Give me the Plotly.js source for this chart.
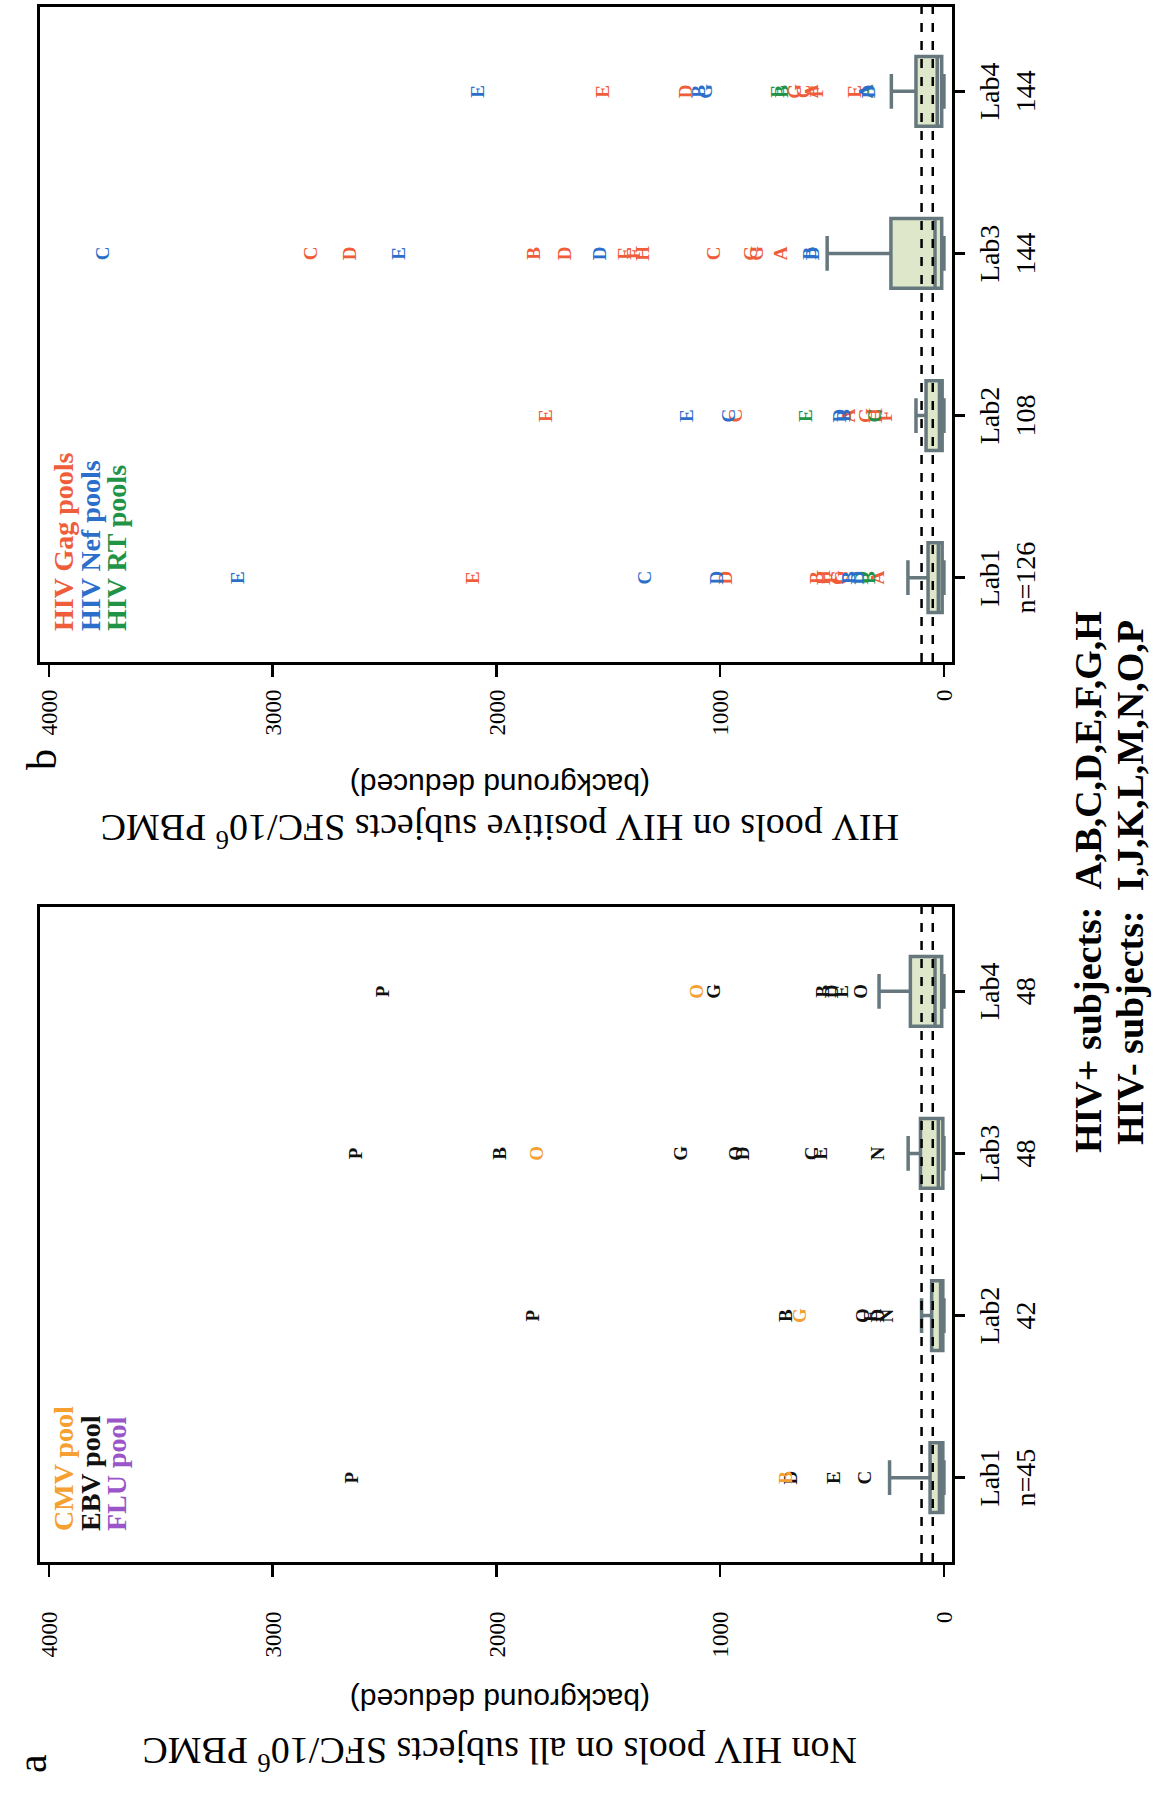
<!DOCTYPE html>
<html>
<head>
<meta charset="utf-8">
<script src="https://cdn.plot.ly/plotly-3.0.1.min.js"></script>
<style>
  html, body { margin: 0; padding: 0; background: #ffffff; }
  body { width: 1153px; height: 1796px; overflow: hidden; position: relative; }
  #chart { position: absolute; left: 0; top: 0; width: 1796px; height: 1153px;
           transform-origin: 0 0; transform: translate(0px, 1796px) rotate(-90deg); }
</style>
</head>
<body>
<div id="chart"></div>
<script>
// ---------------- data ----------------
const labs = ['Lab1', 'Lab2', 'Lab3', 'Lab4'];
const nonHivTickText = ['Lab1<br>n=45', 'Lab2<br>42', 'Lab3<br>48', 'Lab4<br>48'];
const hivTickText = ['Lab1<br>n=126', 'Lab2<br>108', 'Lab3<br>144', 'Lab4<br>144'];
const valueTicks = [0, 1000, 2000, 3000, 4000];
const thresholds = [50, 100];

// box statistics (SFC/10^6 PBMC)
const nonHivLowerFence = [0, 0, 0, 0];
const nonHivQ1 = [5, 5, 5, 10];
const nonHivMedian = [20, 15, 25, 40];
const nonHivQ3 = [62, 55, 105, 150];
const nonHivUpperFence = [243, 100, 160, 290];

const hivLowerFence = [0, 0, 0, 0];
const hivQ1 = [8, 8, 10, 10];
const hivMedian = [25, 20, 40, 30];
const hivQ3 = [71, 80, 237, 125];
const hivUpperFence = [161, 125, 522, 235];

// non-HIV pools: individual responses, labelled by subject
const cmvLab = ['Lab1', 'Lab2', 'Lab3', 'Lab4'];
const cmvValue = [700, 640, 1815, 1100];
const cmvSubject = ['B', 'G', 'O', 'O'];

const ebvLab = ['Lab1', 'Lab1', 'Lab1', 'Lab1',
                'Lab2', 'Lab2', 'Lab2', 'Lab2', 'Lab2', 'Lab2',
                'Lab3', 'Lab3', 'Lab3', 'Lab3', 'Lab3', 'Lab3', 'Lab3', 'Lab3',
                'Lab4', 'Lab4', 'Lab4', 'Lab4', 'Lab4', 'Lab4'];
const ebvValue = [2640, 680, 486, 349,
                  1830, 700, 357, 321, 289, 249,
                  2623, 1978, 1170, 925, 893, 586, 545, 289,
                  2500, 1020, 535, 493, 448, 366];
const ebvSubject = ['P', 'D', 'E', 'C',
                    'P', 'B', 'O', 'E', 'D', 'N',
                    'P', 'B', 'G', 'O', 'D', 'C', 'E', 'N',
                    'P', 'G', 'B', 'D', 'E', 'O'];

// HIV pools on HIV positive subjects
const gagLab = ['Lab1', 'Lab1', 'Lab1', 'Lab1', 'Lab1', 'Lab1', 'Lab1', 'Lab1',
                'Lab2', 'Lab2', 'Lab2', 'Lab2', 'Lab2', 'Lab2',
                'Lab3', 'Lab3', 'Lab3', 'Lab3', 'Lab3', 'Lab3', 'Lab3', 'Lab3', 'Lab3', 'Lab3', 'Lab3',
                'Lab4', 'Lab4', 'Lab4', 'Lab4', 'Lab4', 'Lab4', 'Lab4'];
const gagValue = [2100, 970, 560, 530, 500, 470, 450, 290,
                  1774, 925, 421, 345, 300, 253,
                  2822, 2649, 1825, 1686, 1420, 1380, 1340, 1020, 858, 830, 724,
                  1516, 1149, 662, 621, 586, 560, 393];
const gagSubject = ['E', 'D', 'B', 'H', 'F', 'G', 'C', 'A',
                    'E', 'C', 'A', 'G', 'H', 'F',
                    'C', 'D', 'B', 'D', 'E', 'F', 'H', 'C', 'G', 'G', 'A',
                    'E', 'D', 'G', 'C', 'A', 'F', 'E'];

const nefLab = ['Lab1', 'Lab1', 'Lab1', 'Lab1', 'Lab1',
                'Lab2', 'Lab2', 'Lab2', 'Lab2',
                'Lab3', 'Lab3', 'Lab3', 'Lab3', 'Lab3',
                'Lab4', 'Lab4', 'Lab4', 'Lab4', 'Lab4'];
const nefValue = [3150, 1330, 1010, 420, 380,
                  1144, 955, 457, 440,
                  3755, 2428, 1533, 595, 580,
                  2079, 1087, 1060, 345, 330];
const nefSubject = ['E', 'C', 'D', 'B', 'D',
                    'E', 'C', 'D', 'B',
                    'C', 'E', 'D', 'B', 'D',
                    'E', 'B', 'G', 'A', 'D'];

const rtLab = ['Lab1', 'Lab1', 'Lab2', 'Lab2', 'Lab4', 'Lab4', 'Lab4'];
const rtValue = [360, 330, 612, 304, 738, 720, 340];
const rtSubject = ['D', 'B', 'E', 'C', 'E', 'B', 'A'];

// ---------------- styles ----------------
const SERIF = 'Liberation Serif, Times New Roman, serif';
const SANS = 'Liberation Sans, Arial, sans-serif';
const C_CMV = '#f5a030', C_EBV = '#111111', C_FLU = '#9a55c8';
const C_GAG = '#ef5d3b', C_NEF = '#2b6fcb', C_RT = '#1f9447';
const BOX_FILL = '#dfe7cb', BOX_LINE = '#66787d';

function boxTrace(q1, med, q3, lo, hi, xa, ya) {
  return {
    type: 'box', x: labs, q1: q1, median: med, q3: q3,
    lowerfence: lo, upperfence: hi, boxpoints: false,
    width: 0.43, whiskerwidth: 0.5,
    fillcolor: BOX_FILL, line: { color: BOX_LINE, width: 3.5 },
    xaxis: xa, yaxis: ya, hoverinfo: 'skip', showlegend: false
  };
}
function letterTrace(xs, ys, txt, color, xa, ya) {
  return {
    type: 'scatter', mode: 'text', x: xs, y: ys, text: txt,
    textposition: 'middle center',
    textfont: { family: SERIF, size: 19, color: color, weight: 'bold' },
    xaxis: xa, yaxis: ya, hoverinfo: 'skip', showlegend: false
  };
}

const traces = [
  boxTrace(nonHivQ1, nonHivMedian, nonHivQ3, nonHivLowerFence, nonHivUpperFence, 'x', 'y'),
  boxTrace(hivQ1, hivMedian, hivQ3, hivLowerFence, hivUpperFence, 'x2', 'y2'),
  letterTrace(ebvLab, ebvValue, ebvSubject, C_EBV, 'x', 'y'),
  letterTrace(cmvLab, cmvValue, cmvSubject, C_CMV, 'x', 'y'),
  letterTrace(gagLab, gagValue, gagSubject, C_GAG, 'x2', 'y2'),
  letterTrace(rtLab, rtValue, rtSubject, C_RT, 'x2', 'y2'),
  letterTrace(nefLab, nefValue, nefSubject, C_NEF, 'x2', 'y2')
];

// figure (before the quarter turn) is W x H; plot area spans y = 40..952 px
const W = 1796, H = 1153, TOP = 40, BOTTOM = 952;
function px(x) { return x / W; }
function py(y) { return (BOTTOM - y) / (BOTTOM - TOP); }

function catAxis(domain, ticktext) {
  return {
    domain: domain, type: 'category', categoryorder: 'array', categoryarray: labs,
    range: [-0.52, 3.52], tickvals: labs, ticktext: ticktext,
    tickfont: { family: SERIF, size: 28, color: '#000' },
    ticks: 'outside', ticklen: 10, tickwidth: 2.5, tickcolor: '#000',
    ticklabelstandoff: 0,
    showline: true, mirror: true, linecolor: '#000', linewidth: 3,
    showgrid: false, zeroline: false, fixedrange: true
  };
}
function valAxis(anchor, standoff) {
  return {
    anchor: anchor, domain: [0, 1], range: [-36, 4040],
    tickvals: valueTicks, ticktext: valueTicks.map(String),
    tickfont: { family: SERIF, size: 23, color: '#000' },
    ticks: 'outside', ticklen: 12, tickwidth: 2.5, tickcolor: '#000',
    ticklabelstandoff: standoff,
    showline: true, mirror: true, linecolor: '#000', linewidth: 3,
    showgrid: false, zeroline: false, fixedrange: true
  };
}

const shapes = [];
[['x', 'y'], ['x2', 'y2']].forEach(function (ax) {
  thresholds.forEach(function (t) {
    shapes.push({ type: 'line', xref: ax[0] + ' domain', x0: 0, x1: 1, yref: ax[1], y0: t, y1: t,
                  line: { color: '#000', width: 2.5, dash: 'dash' } });
  });
});

function legendLine(text, color, xpx, ypx) {
  return { text: '<b>' + text + '</b>', xref: 'paper', yref: 'paper',
           x: px(xpx), y: py(ypx), xanchor: 'left', yanchor: 'middle',
           showarrow: false, font: { family: SERIF, size: 28, color: color } };
}
function vText(text, xpx, family, size) {
  return { text: text, xref: 'paper', yref: 'paper', x: px(xpx), y: py(500),
           xanchor: 'center', yanchor: 'middle', textangle: -90, showarrow: false,
           font: { family: family, size: size, color: '#000' } };
}
const annotations = [
  legendLine('CMV pool', C_CMV, 263, 63),
  legendLine('EBV pool', C_EBV, 263, 90),
  legendLine('FLU pool', C_FLU, 263, 117),
  legendLine('HIV Gag pools', C_GAG, 1163, 63),
  legendLine('HIV Nef pools', C_NEF, 1163, 90),
  legendLine('HIV RT pools', C_RT, 1163, 117),
  vText('Non HIV pools on all subjects SFC/10<sup>6</sup> PBMC', 42, SERIF, 38),
  vText('(background deduced)', 96, SANS, 30),
  vText('HIV pools on HIV positive subjects SFC/10<sup>6</sup> PBMC', 965, SERIF, 38),
  vText('(background deduced)', 1011, SANS, 30),
  { text: 'a', xref: 'paper', yref: 'paper', x: px(32), y: py(32),
    xanchor: 'center', yanchor: 'middle', showarrow: false,
    font: { family: SERIF, size: 42, color: '#000' } },
  { text: 'b', xref: 'paper', yref: 'paper', x: px(1036), y: py(42),
    xanchor: 'center', yanchor: 'middle', showarrow: false,
    font: { family: SERIF, size: 42, color: '#000' } },
  { text: '<b>HIV+ subjects:  A,B,C,D,E,F,G,H</b>', xref: 'paper', yref: 'paper',
    x: px(914), y: py(1088), xanchor: 'center', yanchor: 'middle', showarrow: false,
    font: { family: SERIF, size: 38, color: '#000' } },
  { text: '<b>HIV- subjects:  I,J,K,L,M,N,O,P</b>', xref: 'paper', yref: 'paper',
    x: px(914), y: py(1130), xanchor: 'center', yanchor: 'middle', showarrow: false,
    font: { family: SERIF, size: 38, color: '#000' } }
];

const layout = {
  width: W, height: H, autosize: false,
  margin: { l: 0, r: 0, t: TOP, b: H - BOTTOM, pad: 0 },
  paper_bgcolor: '#ffffff', plot_bgcolor: '#ffffff',
  showlegend: false,
  xaxis: catAxis([234 / W, 889 / W], nonHivTickText),
  yaxis: valAxis('x', 30),
  xaxis2: catAxis([1134 / W, 1789 / W], hivTickText),
  yaxis2: valAxis('x2', 8),
  shapes: shapes,
  annotations: annotations
};

Plotly.newPlot('chart', traces, layout, { staticPlot: true, displayModeBar: false });
</script>
</body>
</html>
